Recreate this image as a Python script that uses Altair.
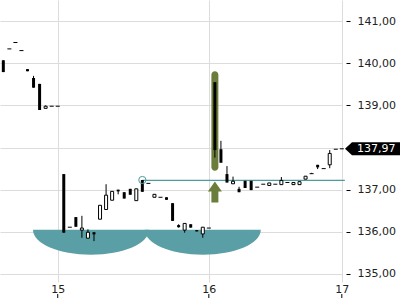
import altair as alt
import pandas as pd

# ---- data ----
idx = list(range(57))
opens = [140.07, 140.34, 140.49, 140.30, 139.86, 139.65, 139.51, 138.93, 138.98, 138.98,
         137.37, 136.11, 136.35, 136.04, 135.85, 135.99, 136.30, 136.53, 136.75, 137.00,
         136.94, 137.02, 136.74, 137.23, 137.15, 136.82, 136.82, 136.82, 136.68, 136.16,
         136.04, 136.18, 136.04, 135.95, 136.09, 139.55, 137.96, 137.37, 137.14, 137.02,
         137.21, 137.21, 137.06, 137.13, 137.10, 137.13, 137.12, 137.17, 137.12, 137.12,
         137.25, 137.38, 137.59, 137.50, 137.59, 137.96, 137.97]
highs = [140.07, 140.34, 140.49, 140.30, 139.86, 139.70, 139.51, 139.00, 138.98, 138.98,
         137.37, 136.11, 136.35, 136.38, 136.06, 135.99, 136.63, 137.13, 136.96, 137.00,
         136.94, 137.02, 137.02, 137.23, 137.15, 136.89, 136.82, 136.82, 136.68, 136.18,
         136.20, 136.18, 136.04, 136.11, 136.09, 139.55, 138.16, 137.56, 137.31, 137.07,
         137.21, 137.21, 137.06, 137.13, 137.16, 137.13, 137.30, 137.17, 137.17, 137.19,
         137.32, 137.40, 137.59, 137.50, 137.94, 137.96, 137.97]
lows = [139.79, 140.34, 140.49, 140.30, 139.81, 139.42, 138.89, 138.93, 138.98, 138.98,
        135.98, 136.11, 136.12, 135.86, 135.85, 135.78, 136.30, 136.53, 136.75, 136.89,
        136.79, 136.88, 136.74, 136.95, 137.15, 136.82, 136.82, 136.76, 136.26, 136.10,
        135.98, 136.10, 136.01, 135.86, 136.09, 137.76, 137.64, 137.17, 137.14, 136.94,
        137.04, 136.99, 137.06, 137.13, 137.10, 137.13, 137.12, 137.17, 137.12, 137.12,
        137.25, 137.38, 137.49, 137.50, 137.51, 137.96, 137.97]
closes = [139.79, 140.34, 140.49, 140.30, 139.81, 139.42, 138.89, 138.98, 138.98, 138.98,
          135.98, 136.11, 136.12, 136.09, 135.99, 135.94, 136.63, 136.87, 136.96, 136.96,
          136.79, 136.88, 137.02, 136.95, 137.15, 136.89, 136.82, 136.76, 136.26, 136.11,
          136.20, 136.10, 136.01, 136.11, 136.09, 137.94, 137.64, 137.17, 137.20, 136.94,
          137.04, 136.99, 137.06, 137.13, 137.16, 137.13, 137.22, 137.17, 137.17, 137.19,
          137.32, 137.38, 137.53, 137.50, 137.86, 137.96, 137.97]

tick_idx = [9, 34, 56]
tick_labels = ["15", "16", "17"]
y_ticks = [135, 136, 137, 138, 139, 140, 141]
hidden_y_label = 138

last_price = 137.97
last_label = "137,97"

level_start = [23]
level_end = [56.5]
level_value = [137.22]
marker_value = [137.23]

bowl_centers = [14.5, 33.0]
bowl_top = [136.05, 136.05]

highlight_i = [35]
highlight_top = [139.81]
highlight_bottom = [137.45]
arrow_i = [35]
arrow_value = [136.945]

# ---- styling ----
TEAL = "#5a9fa5"
TEAL_LINE = "#4e9b9e"
OLIVE = "#6b7d3b"
GRID = "#dcdcdc"
FONT = "DejaVu Sans"

df = pd.DataFrame(dict(i=idx, open=opens, high=highs, low=lows, close=closes))

xs = alt.Scale(domain=[-0.55, 56.03], nice=False, zero=False, padding=0)
ys = alt.Scale(domain=[134.81, 141.5], nice=False, zero=False, padding=0)

x_expr = " : ".join(
    [f"datum.value == {v} ? '{l}'" for v, l in zip(tick_idx[:-1], tick_labels[:-1])]
) + f" : '{tick_labels[-1]}'"

xaxis = alt.Axis(values=tick_idx, labelExpr=x_expr, title=None, grid=True, gridColor=GRID,
                 domain=False, ticks=False, tickSize=0, labelPadding=1, labelFont=FONT,
                 labelFontSize=11, labelColor="#222222", labelAngle=0, labelFlush=False)
yaxis = alt.Axis(orient="right", values=y_ticks, title=None, grid=True, gridColor=GRID,
                 labelExpr=f"datum.value == {hidden_y_label} ? '' : replace(format(datum.value, '.2f'), '.', ',')",
                 domain=False, ticks=True, tickSize=4, tickColor="black", offset=4,
                 labelPadding=7, labelFont=FONT, labelFontSize=11, labelColor="#222222")


def X(field):
    return alt.X(field, type="quantitative", scale=xs, axis=xaxis)


def Y(field):
    return alt.Y(field, type="quantitative", scale=ys, axis=yaxis)


base = alt.Chart(df)

bowls = alt.Chart(pd.DataFrame(dict(i=bowl_centers, v=bowl_top))).mark_point(
    shape="M -1 0 C -1 0.238 -0.552 0.431 0 0.431 C 0.552 0.431 1 0.238 1 0 Z",
    size=116 * 116, filled=True, color=TEAL, opacity=1, strokeWidth=0
).encode(x=X("i"), y=Y("v"))

highlight = alt.Chart(pd.DataFrame(dict(i=highlight_i, t=highlight_top, b=highlight_bottom))).mark_bar(
    size=7, color=OLIVE, opacity=1, cornerRadius=3.5, orient="vertical"
).encode(x=X("i"), y=Y("t"), y2="b")

arrow = alt.Chart(pd.DataFrame(dict(i=arrow_i, v=arrow_value))).mark_point(
    shape="M 0 -1 L 0.667 -0.05 L 0.333 -0.05 L 0.333 1 L -0.333 1 L -0.333 -0.05 L -0.667 -0.05 Z",
    size=441, filled=True, color=OLIVE, opacity=1, strokeWidth=0
).encode(x=X("i"), y=Y("v"))

level = alt.Chart(pd.DataFrame(dict(i=level_start, i2=level_end, v=level_value))).mark_rule(
    color=TEAL_LINE, strokeWidth=1.2, opacity=1
).encode(x=X("i"), x2="i2", y=Y("v"))

wicks = base.mark_rule(color="black", strokeWidth=1, opacity=1).encode(
    x=X("i"), y=Y("low"), y2="high")

down = base.transform_filter("datum.close < datum.open").mark_bar(
    size=3, color="black", opacity=1, orient="vertical"
).encode(x=X("i"), y=Y("open"), y2="close")

up = base.transform_filter("datum.close > datum.open").mark_bar(
    size=3, fill="white", stroke="black", strokeWidth=1, opacity=1, orient="vertical"
).encode(x=X("i"), y=Y("open"), y2="close")

doji = base.transform_filter("datum.close == datum.open").mark_tick(
    orient="horizontal", size=4, thickness=1, color="black", opacity=1
).encode(x=X("i"), y=Y("close"))

marker = alt.Chart(pd.DataFrame(dict(i=level_start, v=marker_value))).mark_point(
    shape="circle", size=52, filled=False, color=TEAL_LINE, strokeWidth=1, opacity=1
).encode(x=X("i"), y=Y("v"))

xticks = alt.Chart(pd.DataFrame(dict(i=tick_idx))).mark_rule(color="black", strokeWidth=1).encode(
    x=X("i"), y=alt.value(294), y2=alt.value(298))

price_df = pd.DataFrame(dict(v=[last_price], label=[last_label]))
price_box = alt.Chart(price_df).mark_point(
    shape="M -1 0 L -0.745 -0.236 L 1 -0.236 L 1 0.236 L -0.745 0.236 Z",
    size=55 * 55, filled=True, color="black", opacity=1, strokeWidth=0
).encode(x=alt.value(372.5), y=Y("v"))
price_text = alt.Chart(price_df).mark_text(
    align="left", baseline="middle", color="white", font=FONT, fontSize=11
).encode(x=alt.value(357), y=Y("v"), text="label:N")

chart = alt.layer(
    bowls, highlight, arrow, level, wicks, down, up, doji, marker, xticks, price_box, price_text
).properties(
    width=342, height=282,
    padding={"left": 0, "right": 58, "top": 0, "bottom": 18},
    autosize=alt.AutoSizeParams(type="none"),
    background="white",
).configure_view(strokeWidth=0)

chart.save("out.html", embed_options={"renderer": "svg", "actions": False})
